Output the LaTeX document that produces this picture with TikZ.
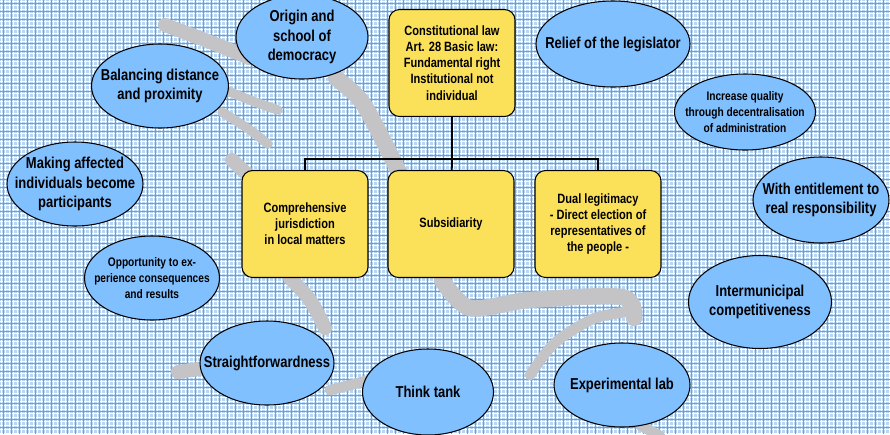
\documentclass[tikz,border=0pt]{standalone}
\usepackage{fontspec}
\setmainfont{Liberation Sans}[FakeStretch=0.82]
\usepackage{tikz}
\usetikzlibrary{shapes.geometric}
\definecolor{bgblue}{RGB}{184,212,240}
\definecolor{lineblue}{RGB}{110,160,214}
\definecolor{bubble}{RGB}{128,192,255}
\definecolor{boxyellow}{RGB}{251,224,90}
\definecolor{brushgrey}{RGB}{196,196,198}

\begin{document}
\begin{tikzpicture}[x=0.03cm, y=-0.03cm,
    bubble/.style={draw, ellipse, fill=bubble, line width=0.9pt, inner sep=-20pt,
        minimum width=136*0.03cm, minimum height=84*0.03cm, align=center,
        font=\bfseries\fontsize{13.5}{16.5}\selectfont},
    smalltext/.style={font=\bfseries\fontsize{10.6}{13.9}\selectfont},
    law/.style={draw, rectangle, rounded corners=9pt, fill=boxyellow, line width=0.9pt,
        minimum width=126*0.03cm, minimum height=107*0.03cm, align=center,
        font=\bfseries\fontsize{11.5}{13.8}\selectfont},
    brush/.style={line width=12pt, brushgrey, line cap=round, line join=round},
    tree/.style={line width=1.5pt}]

    % background plaid
    \useasboundingbox (0,0) rectangle (890,434);
    \fill[bgblue] (0,0) rectangle (890,434);
    \foreach \x in {1,5,...,889} \draw[white, line width=0.55pt] (\x,0) -- (\x,434);
    \foreach \y in {1,5,...,433} \draw[white, line width=0.55pt] (0,\y) -- (890,\y);
    \foreach \x in {3,11,...,889} \draw[lineblue, line width=0.35pt] (\x,0) -- (\x,434);
    \foreach \y in {3,11,...,433} \draw[lineblue, line width=0.35pt] (0,\y) -- (890,\y);

    % grey brush strokes
    \draw[brush] plot[smooth] coordinates {(165,25) (205,40) (250,58)};
    \draw[brush, line width=8pt] plot[smooth] coordinates {(225,90) (255,102) (278,110)};
    \draw[brush, line width=8pt] plot[smooth] coordinates {(222,112) (250,130) (268,144)};
    \draw[brush] plot[smooth] coordinates {(232,160) (250,177)};
    \draw[brush, line width=14pt] plot[smooth] coordinates {(336,78) (362,102) (388,150) (405,185)};
    \draw[brush] plot[smooth] coordinates {(290,278) (310,300) (325,328)};
    \draw[brush] plot[smooth] coordinates {(178,372) (205,368)};
    \draw[brush, line width=9pt] plot[smooth] coordinates {(330,390) (370,380)};
    \draw[brush, line width=14pt] plot[smooth] coordinates {(442,280) (470,308) (530,300) (622,297) (634,318)};
    \draw[brush, line width=9pt] plot[smooth] coordinates {(626,312) (595,318) (565,335) (548,350) (530,375)};
    \draw[brush, line width=9pt] plot[smooth] coordinates {(640,425) (660,436)};

    % yellow boxes
    \draw (452,63) node[law] (top) {Constitutional law\\Art. 28 Basic law:\\Fundamental right\\Institutional not\\individual};
    \draw (305,224) node[law] (comp) {Comprehensive\\jurisdiction\\in local matters};
    \draw (451,224) node[law] (subs) {Subsidiarity};
    \draw (598,224) node[law] (dual) {Dual legitimacy\\- Direct election of\\representatives of\\the people -};
    \coordinate (split) at (452,159);
    \draw[tree] (top) -- (split);
    \draw[tree] (split) -| (comp);
    \draw[tree] (split) -- (subs);
    \draw[tree] (split) -| (dual);

    % blue bubbles
    \draw (302,37) node[bubble, minimum width=132*0.03cm] (origin) {Origin and\\school of\\democracy};
    \draw (160,86) node[bubble, minimum width=137*0.03cm] (balance) {Balancing distance\\and proximity};
    \draw (75,184) node[bubble] (affected) {Making affected\\individuals become\\participants};
    \draw (152,278) node[bubble, smalltext, minimum width=135*0.03cm] (chance) {Opportunity to ex-\\perience consequences\\and results};
    \draw (267,363) node[bubble, minimum width=134*0.03cm] (straight) {Straightforwardness};
    \draw (428,392) node[bubble, minimum width=131*0.03cm, minimum height=86*0.03cm] (think) {Think tank};
    \draw (622,385) node[bubble] (lab) {Experimental lab};
    \draw (760,302) node[bubble, minimum width=143*0.03cm, minimum height=93*0.03cm] (compete) {Intermunicipal\\competitiveness};
    \draw (821,200) node[bubble, minimum height=86*0.03cm] (entitle) {With entitlement to\\real responsibility};
    \draw (745,112) node[bubble, smalltext, minimum width=141*0.03cm, minimum height=76*0.03cm] (quality) {Increase quality\\through decentralisation\\of administration};
    \draw (613,44) node[bubble, minimum width=154*0.03cm, minimum height=86*0.03cm] (relief) {Relief of the legislator};

\end{tikzpicture}
\end{document}
